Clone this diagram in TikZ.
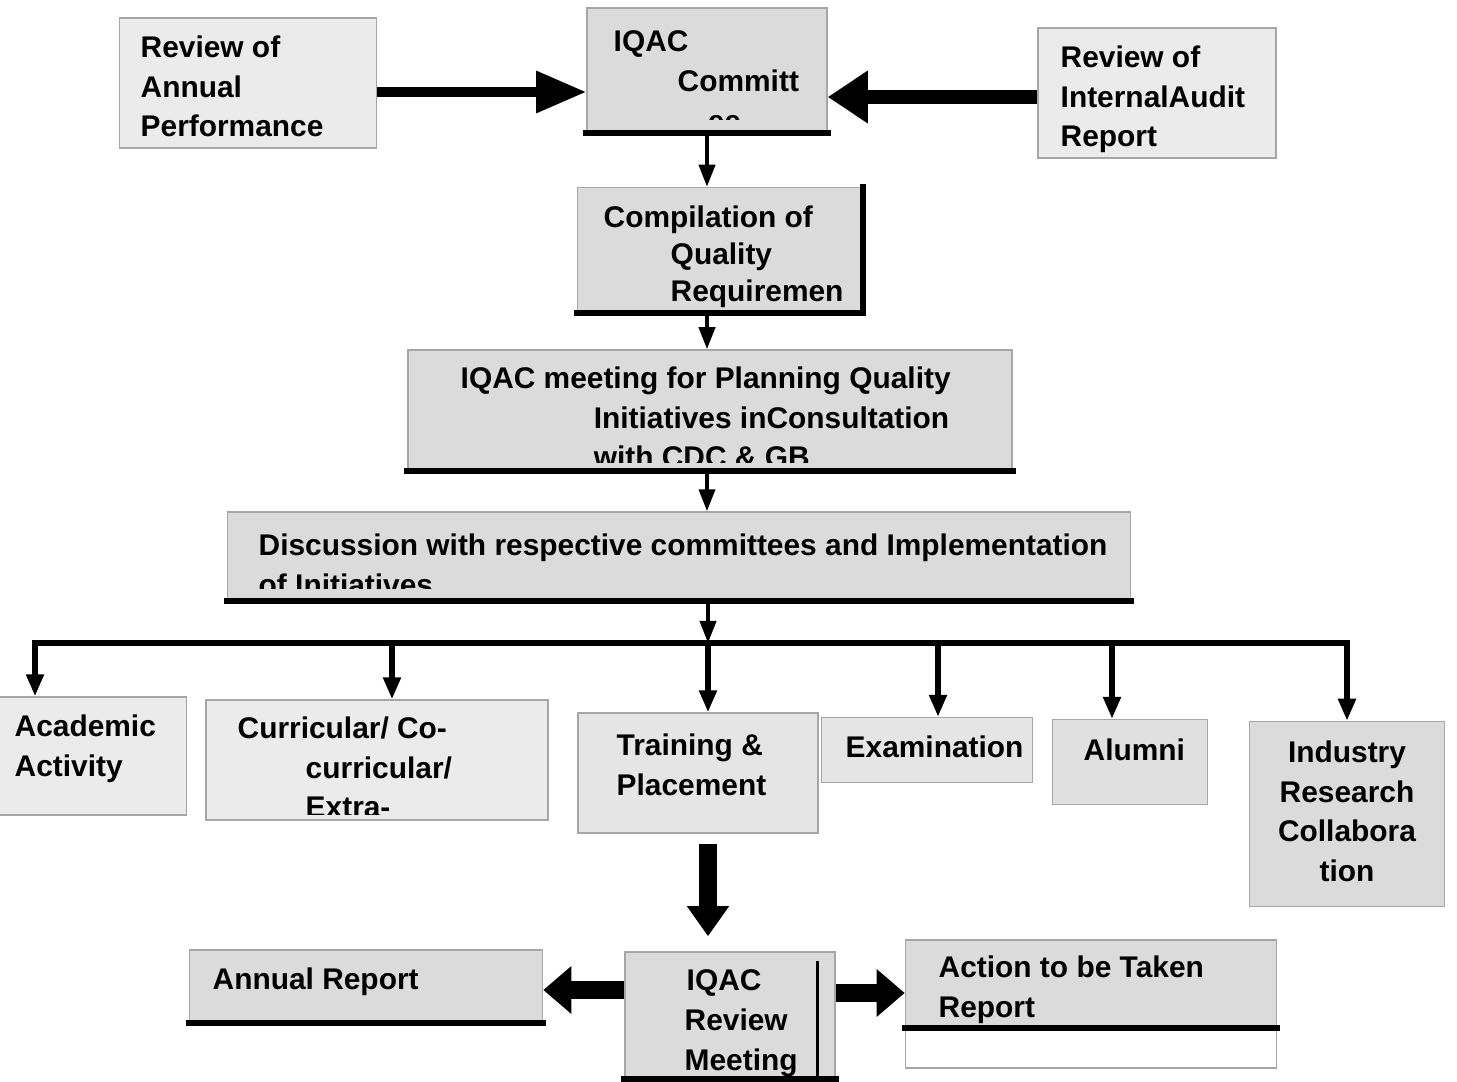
\documentclass[tikz,border=0pt]{standalone}
\usepackage{fontspec}
\setmainfont{Liberation Sans}
\usetikzlibrary{arrows.meta}

\begin{document}
\begin{tikzpicture}[x=0.01cm,y=-0.01cm,
  box/.style={draw=black!35,fill=black!14,inner sep=0pt,line width=0.4pt},
  pale/.style={box,fill=black!8},
  txt/.style={anchor=north west,inner sep=0pt,align=left,font=\bfseries\fontsize{8.5}{11.3}\selectfont},
  base/.style={line width=1.8pt,line cap=rect},
  arr/.style={-{Triangle[length=2.2mm,width=1.6mm]},line width=1.1pt},
  tree/.style={-{Triangle[length=2.2mm,width=1.7mm]},line width=1.5pt}]
  \useasboundingbox (0,0) rectangle (1457,1082);
  % boxes
  \node[pale,minimum width=2.57cm,minimum height=1.30cm] (annual) at (248,83) {};
  \node[box,minimum width=2.40cm,minimum height=1.24cm] (comm) at (707,70) {};
  \node[pale,minimum width=2.38cm,minimum height=1.30cm] (audit) at (1157,93) {};
  \node[box,minimum width=2.85cm,minimum height=1.25cm] (comp) at (720,250) {};
  \node[box,minimum width=6.04cm,minimum height=1.20cm] (plan) at (710,410) {};
  \node[box,minimum width=9.02cm,minimum height=0.88cm] (disc) at (679,556) {};
  \node[pale,minimum width=1.87cm,minimum height=1.18cm] (acad) at (93,756) {};
  \node[pale,minimum width=3.42cm,minimum height=1.20cm] (curr) at (377,760) {};
  \node[box,fill=black!10,minimum width=2.40cm,minimum height=1.20cm] (train) at (698,773) {};
  \node[box,fill=black!10,minimum width=2.11cm,minimum height=0.65cm] (exam) at (927,750) {};
  \node[box,fill=black!12,minimum width=1.55cm,minimum height=0.85cm] (alum) at (1130,762) {};
  \node[box,minimum width=1.95cm,minimum height=1.85cm] (indu) at (1347,814) {};
  \node[box,minimum width=2.10cm,minimum height=1.26cm] (rev) at (730,1015) {};
  \node[box,minimum width=3.53cm,minimum height=0.72cm] (arep) at (366,986) {};
  \node[box,fill=white,minimum width=3.71cm,minimum height=1.28cm,
    path picture={\fill[black!14] (path picture bounding box.north west) rectangle ([yshift=-0.24cm]path picture bounding box.east);}] (atr) at (1091,1004) {};
  % texts
  \node[txt] (annualT) at (140,35) {Review of\\Annual\\Performance};
  \begin{scope}
    \clip ([yshift=0.13cm]comm.south west) rectangle (comm.north east);
    \node[txt] (commT) at (613,30) {IQAC\\\hspace*{0.64cm}Committ\\\hspace*{0.94cm}ee};
  \end{scope}
  \node[txt] (auditT) at (1060,45) {Review of\\InternalAudit\\Report};
  \node[txt,font=\bfseries\fontsize{8.5}{10.5}\selectfont] (compT) at (603,205) {Compilation of\\\hspace*{0.67cm}Quality\\\hspace*{0.67cm}Requiremen};
  \begin{scope}
    \clip ([yshift=0.08cm]plan.south west) rectangle (plan.north east);
    \node[txt] (planT) at (460,366) {IQAC meeting for Planning Quality\\\hspace*{1.33cm}Initiatives inConsultation\\\hspace*{1.33cm}with CDC \& GB};
  \end{scope}
  \begin{scope}
    \clip ([yshift=0.12cm]disc.south west) rectangle (disc.north east);
    \node[txt] (discT) at (258,533) {Discussion with respective committees and Implementation\\of Initiatives};
  \end{scope}
  \node[txt] (acadT) at (14,714) {Academic\\Activity};
  \begin{scope}
    \clip ([yshift=0.06cm]curr.south west) rectangle (curr.north east);
    \node[txt] (currT) at (237,716) {Curricular/ Co-\\\hspace*{0.68cm}curricular/\\\hspace*{0.68cm}Extra-};
  \end{scope}
  \node[txt] (trainT) at (616,733) {Training \&\\Placement};
  \node[txt] (examT) at (845,735) {Examination};
  \node[txt] (alumT) at (1083,738) {Alumni};
  \node[txt,anchor=north,align=center] (induT) at (1347,740) {Industry\\Research\\Collabora\\tion};
  \node[txt] (revT) at (684,969) {\hspace*{0.02cm}IQAC\\Review\\Meeting};
  \node[txt] (arepT) at (212,967) {Annual Report};
  \node[txt] (atrT) at (938,955) {Action to be Taken\\Report};
  % heavy edges
  \draw[base] (comm.south west) -- (comm.south east);
  \draw[base] (comp.north east) -- (comp.south east) -- (comp.south west);
  \draw[base] (plan.south west) -- (plan.south east);
  \draw[base] (disc.south west) -- (disc.south east);
  \draw[base] (rev.south west) -- (rev.south east);
  \draw[base] (arep.south west) -- (arep.south east);
  \draw[base] ([yshift=-0.24cm]atr.west) -- ([yshift=-0.24cm]atr.east);
  \draw[line width=0.8pt] ([xshift=-0.18cm,yshift=-0.1cm]rev.north east) -- ([xshift=-0.18cm]rev.south east);
  % flow down the middle
  \draw[arr] (comm.south) -- (comm.south |- comp.north);
  \draw[arr] (comm.south |- comp.south) -- (comm.south |- plan.north);
  \draw[arr] (comm.south |- plan.south) -- (comm.south |- disc.north);
  % inputs
  \coordinate (aIn) at ([yshift=-0.09cm]annual.east);
  \coordinate (bIn) at ([yshift=-0.04cm]audit.west);
  \draw[line width=2.6pt,-{Triangle[length=5mm,width=4mm]}] (aIn) -- (aIn -| comm.west);
  \draw[line width=4pt,-{Triangle[length=4mm,width=5mm]}] (bIn) -- (bIn -| comm.east);
  % branches
  \coordinate (b1) at (35,643);
  \coordinate (b2) at (392,643);
  \coordinate (b3) at (708,643);
  \coordinate (b4) at (938,643);
  \coordinate (b5) at (1112,643);
  \coordinate (b6) at (1347,643);
  \draw[arr] (disc.south -| b3) -- (b3);
  \draw[line width=1.6pt,line cap=rect] (b1) -- (b6);
  \foreach \b/\n in {b1/acad,b2/curr,b3/train,b4/exam,b5/alum,b6/indu}
    \draw[tree] (\b) -- (\b |- \n.north);
  % review
  \draw[line width=5pt,-{Triangle[length=3mm,width=4mm]},shorten <=0.1cm,shorten >=0.15cm] (b3 |- train.south) -- (b3 |- rev.north);
  \coordinate (rL) at ([yshift=0.25cm]rev.west);
  \coordinate (rR) at ([yshift=0.22cm]rev.east);
  \draw[line width=5pt,-{Triangle[length=2.8mm,width=4.6mm]}] (rL) -- (rL -| arep.east);
  \draw[line width=5pt,-{Triangle[length=2.8mm,width=4.6mm]}] (rR) -- (rR -| atr.west);
\end{tikzpicture}
\end{document}
